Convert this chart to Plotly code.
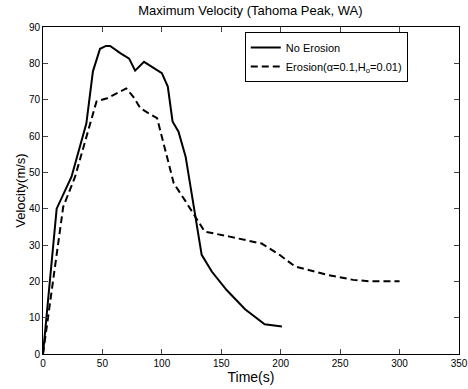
import plotly.graph_objects as go

time_no_erosion = [0, 11.5, 24, 36.5, 42, 48, 53, 56.5, 65, 72.5, 77.5, 85, 100, 105, 109, 114, 120, 125, 133.5, 142, 154.5, 170, 186.5, 201]
vel_no_erosion = [0, 40, 48.8, 63.5, 77.8, 84, 84.8, 84.8, 82.8, 81.3, 78, 80.4, 77.3, 73.6, 64, 61.2, 54.3, 44, 27.3, 22.7, 17.6, 12.3, 8.2, 7.6]

time_erosion = [0, 17, 27, 45, 54, 70, 76, 82, 96, 107, 110, 120, 130, 136, 157, 184, 199, 212, 239, 261, 275, 300]
vel_erosion = [0, 40.5, 48.8, 69.5, 70.4, 73.1, 70.8, 67.6, 64.9, 50.6, 47, 42, 37, 33.7, 32.3, 30.4, 27.3, 24.1, 21.8, 20.4, 20, 20]

x_ticks = [0, 50, 100, 150, 200, 250, 300, 350]
y_ticks = [0, 10, 20, 30, 40, 50, 60, 70, 80, 90]

fig = go.Figure()
fig.add_trace(go.Scatter(x=time_no_erosion, y=vel_no_erosion, mode="lines",
                         name="No Erosion", line=dict(color="black", width=2)))
fig.add_trace(go.Scatter(x=time_erosion, y=vel_erosion, mode="lines",
                         name="Erosion(α=0.1,H<sub>o</sub>=0.01)",
                         line=dict(color="black", width=2, dash="7px,4px")))

font = "Liberation Sans, Arial, sans-serif"
fig.update_layout(
    width=468, height=389,
    margin=dict(l=43, r=9, t=27, b=35),
    paper_bgcolor="white", plot_bgcolor="white",
    font=dict(family=font, size=10, color="black"),
    title=dict(text="Maximum Velocity (Tahoma Peak, WA)", x=0.535, xanchor="center",
               y=0.985, yanchor="top", font=dict(size=13, family=font)),
    showlegend=True,
    legend=dict(x=0.485, y=0.985, xanchor="left", yanchor="top",
                bordercolor="black", borderwidth=1, bgcolor="white",
                font=dict(size=11, family=font), tracegroupgap=0,
                itemwidth=30),
)
fig.update_xaxes(range=[0, 350], tickvals=x_ticks, ticks="inside", ticklen=5,
                 showline=True, linecolor="black", linewidth=1, mirror="ticks",
                 showgrid=False, zeroline=False, automargin=False,
                 title=dict(text="Time(s)", font=dict(size=14, family=font), standoff=0))
fig.update_yaxes(range=[0, 90], tickvals=y_ticks, ticks="inside", ticklen=5,
                 showline=True, linecolor="black", linewidth=1, mirror="ticks",
                 showgrid=False, zeroline=False, automargin=False,
                 title=dict(text="Velocity(m/s)", font=dict(size=13, family=font), standoff=0))

fig.write_html("out.html", config={"displayModeBar": False},
               post_script="document.body.style.margin='0';document.body.style.padding='0';")
